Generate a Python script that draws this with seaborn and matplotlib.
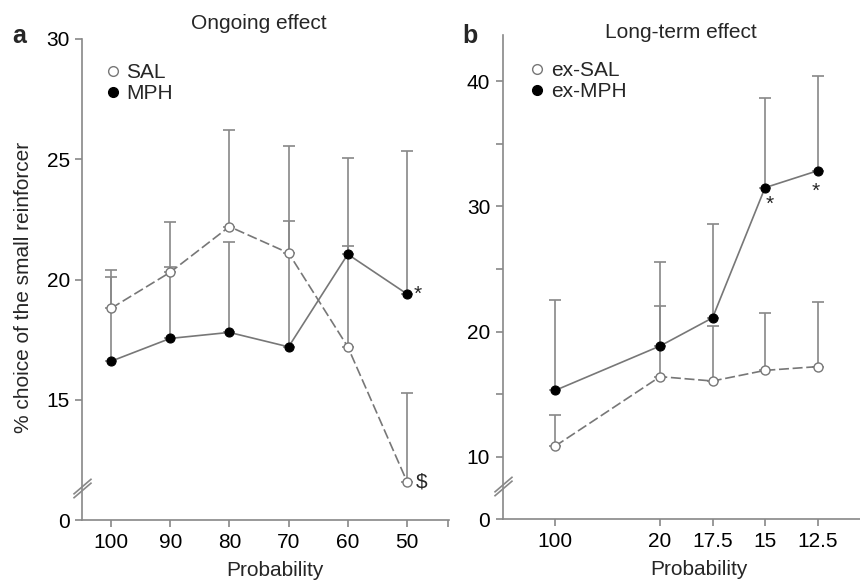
import numpy as np
import pandas as pd
import matplotlib
matplotlib.use("Agg")
import matplotlib.pyplot as plt
import seaborn as sns
from matplotlib.path import Path
from matplotlib.lines import Line2D

# ---- data ---------------------------------------------------------------
# panel a : ongoing effect
prob_a = ['100', '90', '80', '70', '60', '50']
pos_a = [0, 1, 2, 3, 4, 5]
sal_mean = [18.8, 20.3, 22.2, 21.1, 17.2, 11.6]
sal_upper = [20.4, 22.4, 26.2, 25.55, 21.4, 15.3]
mph_mean = [16.6, 17.55, 17.8, 17.2, 21.05, 19.4]
mph_upper = [20.1, 20.5, 21.55, 22.45, 25.05, 25.35]

# panel b : long-term effect
prob_b = ['100', '20', '17.5', '15', '12.5']
pos_b = [0, 2, 3, 4, 5]
exsal_mean = [10.85, 16.4, 16.05, 16.9, 17.2]
exsal_upper = [13.3, 22.05, 20.45, 21.5, 22.35]
exmph_mean = [15.3, 18.85, 21.1, 31.5, 32.85]
exmph_upper = [22.55, 25.55, 28.6, 38.65, 40.4]

sns.set_style("ticks")
plt.rcParams['font.family'] = ['Liberation Sans', 'DejaVu Sans']
plt.rcParams['font.size'] = 15

GREY = '#777777'
EGREY = '#888888'
W, H = 860, 581

fig = plt.figure(figsize=(W / 100, H / 100), dpi=100)
axA = fig.add_axes([82.3 / W, (H - 520) / H, (449 - 82.3) / W, (520 - 39) / H])
axB = fig.add_axes([502.7 / W, (H - 519.3) / H, (860 - 502.7) / W, (519.3 - 35) / H])

# break marker: two little slashes across the y axis
brk = Path([(-7, -7.5), (7, 4.5), (-7, -4.5), (7, 7.5)],
           [Path.MOVETO, Path.LINETO, Path.MOVETO, Path.LINETO])


def draw_series(ax, pos, mean, upper, filled):
    df = pd.DataFrame({'x': pos, 'y': mean})
    err = np.array(upper) - np.array(mean)
    ax.errorbar(pos, mean, yerr=[np.zeros(len(pos)), err], fmt='none',
                ecolor=EGREY, elinewidth=1.2, capsize=4.5, capthick=1.2, zorder=1)
    if filled:
        sns.lineplot(data=df, x='x', y='y', ax=ax, color=GREY, linewidth=1.2,
                     marker='o', markersize=6.5, markerfacecolor='black',
                     markeredgecolor='black', markeredgewidth=0.8, zorder=3)
    else:
        sns.lineplot(data=df, x='x', y='y', ax=ax, color=GREY, linewidth=1.2,
                     linestyle=(0, (6, 2.2)), marker='o', markersize=6.5,
                     markerfacecolor='white', markeredgecolor=GREY,
                     markeredgewidth=1.0, zorder=3)


def style_axis(ax, xlim, ylim, yticks, ylabels, ybreak):
    ax.set_xlim(*xlim)
    ax.set_ylim(*ylim)
    ax.set_yticks(yticks)
    ax.set_yticklabels(ylabels)
    sns.despine(ax=ax)
    for s in ['left', 'bottom']:
        ax.spines[s].set_color(EGREY)
        ax.spines[s].set_linewidth(1.2)
    ax.tick_params(which='both', direction='out', length=5, width=1.2,
                   color=EGREY, labelcolor='black', labelsize=15, pad=4)
    ax.set_xlabel('')
    ax.set_ylabel('')
    ax.plot([xlim[0]], [ybreak], marker=brk, ms=14, mec=EGREY, mew=1.2,
            fillstyle='none', linestyle='none', clip_on=False, zorder=5)


# ---- panel a --------------------------------------------------------------
draw_series(axA, pos_a, sal_mean, sal_upper, filled=False)
draw_series(axA, pos_a, mph_mean, mph_upper, filled=True)
style_axis(axA, (-0.485, 5.71), (10, 30), [10, 15, 20, 25, 30],
           ['0', '15', '20', '25', '30'], 11.35)
axA.set_xticks(pos_a)
axA.set_xticklabels(prob_a)
axA.set_xticks([5.70], minor=True)
axA.annotate('*', (pos_a[-1], mph_mean[-1]), xytext=(5, 0), textcoords='offset points',
             ha='left', va='center', fontsize=15)
axA.annotate('$', (pos_a[-1], sal_mean[-1]), xytext=(6, 0), textcoords='offset points',
             ha='left', va='center', fontsize=15)

hA = [Line2D([], [], ls='none', marker='o', ms=7, mfc='white', mec=GREY, mew=1.0),
      Line2D([], [], ls='none', marker='o', ms=7, mfc='black', mec='black')]
axA.legend(hA, ['SAL', 'MPH'], loc='upper left', bbox_to_anchor=(0.061, 0.95),
           frameon=False, borderpad=0, borderaxespad=0, handlelength=0.8,
           handletextpad=0.25, labelspacing=0.1, fontsize=15)

axA.text(0.482, 1.033, 'Ongoing effect', transform=axA.transAxes,
         ha='center', va='center', fontsize=15)
axA.text(-0.173, 0.992, 'a', transform=axA.transAxes, ha='center',
         va='baseline', fontsize=18, fontweight='bold')
axA.set_ylabel('% choice of the small reinforcer', fontsize=15)
axA.yaxis.set_label_coords(-0.135, 0.484)
axA.set_xlabel('Probability', fontsize=15)
axA.xaxis.set_label_coords(0.525, -0.085)

# ---- panel b --------------------------------------------------------------
draw_series(axB, pos_b, exsal_mean, exsal_upper, filled=False)
draw_series(axB, pos_b, exmph_mean, exmph_upper, filled=True)
style_axis(axB, (-1.0, 5.81), (5, 43.7), [5, 10, 15, 20, 25, 30, 35, 40],
           ['0', '10', '', '20', '', '30', '', '40'], 7.7)
axB.set_xticks(pos_b)
axB.set_xticklabels(prob_b)
axB.annotate('*', (pos_b[3], exmph_mean[3]), xytext=(3.5, -12), textcoords='offset points',
             ha='center', va='center', fontsize=15)
axB.annotate('*', (pos_b[4], exmph_mean[4]), xytext=(-1, -14.5), textcoords='offset points',
             ha='center', va='center', fontsize=15)

hB = [Line2D([], [], ls='none', marker='o', ms=7, mfc='white', mec=GREY, mew=1.0),
      Line2D([], [], ls='none', marker='o', ms=7, mfc='black', mec='black')]
axB.legend(hB, ['ex-SAL', 'ex-MPH'], loc='upper left', bbox_to_anchor=(0.073, 0.946),
           frameon=False, borderpad=0, borderaxespad=0, handlelength=0.8,
           handletextpad=0.25, labelspacing=0.1, fontsize=15)

axB.text(0.499, 1.006, 'Long-term effect', transform=axB.transAxes,
         ha='center', va='center', fontsize=15)
axB.text(-0.0915, 0.983, 'b', transform=axB.transAxes, ha='center',
         va='baseline', fontsize=18, fontweight='bold')
axB.set_xlabel('Probability', fontsize=15)
axB.xaxis.set_label_coords(0.549, -0.085)

fig.savefig('out.png', dpi=100)
